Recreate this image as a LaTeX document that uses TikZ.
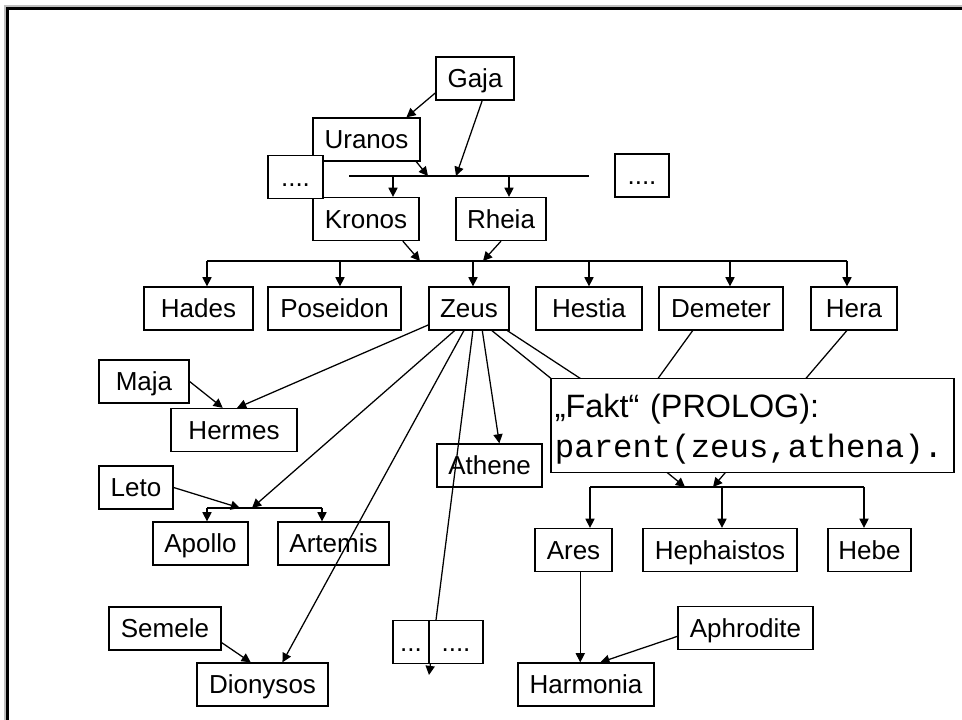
\documentclass[tikz,border=0pt]{standalone}
\usepackage{fontspec}
\setmainfont{Liberation Sans}
\setmonofont{Liberation Mono}
\usetikzlibrary{arrows.meta}

\begin{document}
\begin{tikzpicture}[
  x=0.025cm, y=-0.025cm, line width=0.9pt, >={Triangle[length=6.5pt,width=6.5pt]},
  godbox/.style={draw, minimum height=1.075cm, inner sep=0pt, font=\fontsize{18.5}{22}\selectfont, text height=13.2pt, text depth=0pt},
  dotbox/.style={godbox, fill=white},
  factbox/.style={draw, fill=white, minimum width=10.075cm, text width=9.875cm, align=left, inner xsep=0.1cm, inner ysep=0pt, text height=27.7pt, text depth=39.6pt, font=\fontsize{23}{29}\selectfont}
]
  \useasboundingbox[fill=white] (0,0) rectangle (962,720);

  % frame
  \draw[gray!50, line width=0.05cm] (5,720) -- (5,6.5) -- (962,6.5);
  \draw[line width=0.075cm] (7.5,720) -- (7.5,9) -- (962,9);

  \node[godbox, minimum width=1.95cm] (gaja) at (475,78.5) {Gaja};
  \node[godbox, minimum width=2.675cm] (uranos) at (366.5,139.5) {Uranos};
  \node[godbox, minimum width=2.65cm] (kronos) at (366,219) {Kronos};
  \node[godbox, minimum width=2.25cm] (rheia) at (501,219) {Rheia};
  \node[dotbox, minimum width=1.375cm] (dotsl) at (295.5,177) {....};
  \node[dotbox, minimum width=1.35cm] (dotsr) at (642,175.5) {....};

  \node[godbox, minimum width=2.725cm] (hades) at (198.5,308.5) {Hades};
  \node[godbox, minimum width=3.325cm] (poseidon) at (334.5,308.5) {Poseidon};
  \node[godbox, minimum width=2cm] (zeus) at (469,308.5) {Zeus};
  \node[godbox, minimum width=2.65cm] (hestia) at (589,308.5) {Hestia};
  \node[godbox, minimum width=3.1cm] (demeter) at (721,308.5) {Demeter};
  \node[godbox, minimum width=2.15cm] (hera) at (854,308.5) {Hera};

  \node[godbox, minimum width=2.25cm] (maja) at (144,381.5) {Maja};
  \node[godbox, minimum width=3.15cm] (hermes) at (234,430) {Hermes};
  \node[godbox, minimum width=2.625cm] (athene) at (489.5,465.5) {Athene};
  \node[godbox, minimum width=1.85cm] (leto) at (136,487.5) {Leto};
  \node[godbox, minimum width=2.375cm] (apollo) at (200.5,543.5) {Apollo};
  \node[godbox, minimum width=2.775cm] (artemis) at (333.5,543.5) {Artemis};
  \node[godbox, minimum width=2.8cm] (semele) at (165,628.5) {Semele};
  \node[godbox, minimum width=3.275cm] (dionysos) at (262.5,684.5) {Dionysos};

  \node[godbox, minimum width=1.925cm] (ares) at (573.5,550) {Ares};
  \node[godbox, minimum width=3.85cm] (hephaistos) at (720,550) {Hephaistos};
  \node[godbox, minimum width=2.075cm] (hebe) at (869.5,550) {Hebe};
  \node[godbox, minimum width=3.375cm] (aphrodite) at (745.5,628) {Aphrodite};
  \node[godbox, minimum width=3.4cm] (harmonia) at (586,684.5) {Harmonia};

  % Gaja + Uranos
  \coordinate (gkw) at (349,176);
  \coordinate (gke) at (589,176);
  \coordinate (gku) at (428,176);
  \coordinate (gkg) at (456,176);
  \draw (gkw) -- (gke);
  \draw[->] (gaja.200) -- (uranos.29);
  \draw[->] (gaja.-72) -- (gkg);
  \draw[->] (uranos.-24) -- (gku);
  \foreach \x/\kid in {393/kronos, 509/rheia}
    {\coordinate (j) at (\x,176); \draw[->] (j) -- (j |- \kid.north);}

  % Kronos + Rheia
  \coordinate (krw) at (207,261);
  \coordinate (kre) at (847,261);
  \coordinate (krk) at (420,261);
  \coordinate (krr) at (483,261);
  \draw (krw) -- (kre);
  \draw[->] (kronos.-31) -- (krk);
  \draw[->] (rheia.south) -- (krr);
  \foreach \x/\kid in {207/hades, 340/poseidon, 473/zeus, 589/hestia, 730/demeter, 847/hera}
    {\coordinate (j) at (\x,261); \draw[->] (j) -- (j |- \kid.north);}

  % Zeus
  \draw[->] (maja.east) -- (hermes.117);
  \draw[->] (zeus.202) -- (hermes.82);
  \coordinate (law) at (207,508);
  \coordinate (lae) at (322,508);
  \coordinate (lal) at (240,508);
  \coordinate (laz) at (252,508);
  \draw (law) -- (lae);
  \draw[->] (leto.east) -- (lal);
  \draw[->] (zeus.237) -- (laz);
  \draw[->] (law) -- (law |- apollo.north);
  \draw[->] (lae) -- (lae |- artemis.north);
  \draw[->] (semele.-14) -- (dionysos.118);
  \draw[->] (zeus.257) -- (dionysos.48);
  \draw[->] (zeus.-59) -- (athene.66);
  \coordinate (zeusend) at (429,675);
  \draw[->] (zeus.-80) -- (zeusend);
  \node[dotbox, minimum width=0.9cm] (dotsa) at (411,642) {...};
  \node[dotbox, minimum width=1.35cm] (dotsb) at (456,642) {....};

  % Zeus + Hera, Zeus + Demeter
  \coordinate (hzw) at (590,487);
  \coordinate (hze) at (864,487);
  \coordinate (hzz) at (685,487);
  \coordinate (hzh) at (713,487);
  \coordinate (pers) at (633,413);
  \draw (hzw) -- (hze);
  \draw[->] (zeus.-44) -- (hzz);
  \draw[->] (hera.252) -- (hzh);
  \draw (zeus.-30) -- (pers);
  \draw (demeter.218) -- (pers);
  \foreach \x/\kid in {590/ares, 722/hephaistos, 864/hebe}
    {\coordinate (j) at (\x,487); \draw[->] (j) -- (j |- \kid.north);}
  \draw[->] (ares.-73.5) -- (ares.-73.5 |- harmonia.north);
  \draw[->] (aphrodite.187) -- (harmonia.57);

  \node[factbox] (fakt) at (752.5,425.5) {„Fakt“ (PROLOG):\\{\ttfamily\fontsize{23}{29}\selectfont parent(zeus,athena).}};
\end{tikzpicture}
\end{document}
